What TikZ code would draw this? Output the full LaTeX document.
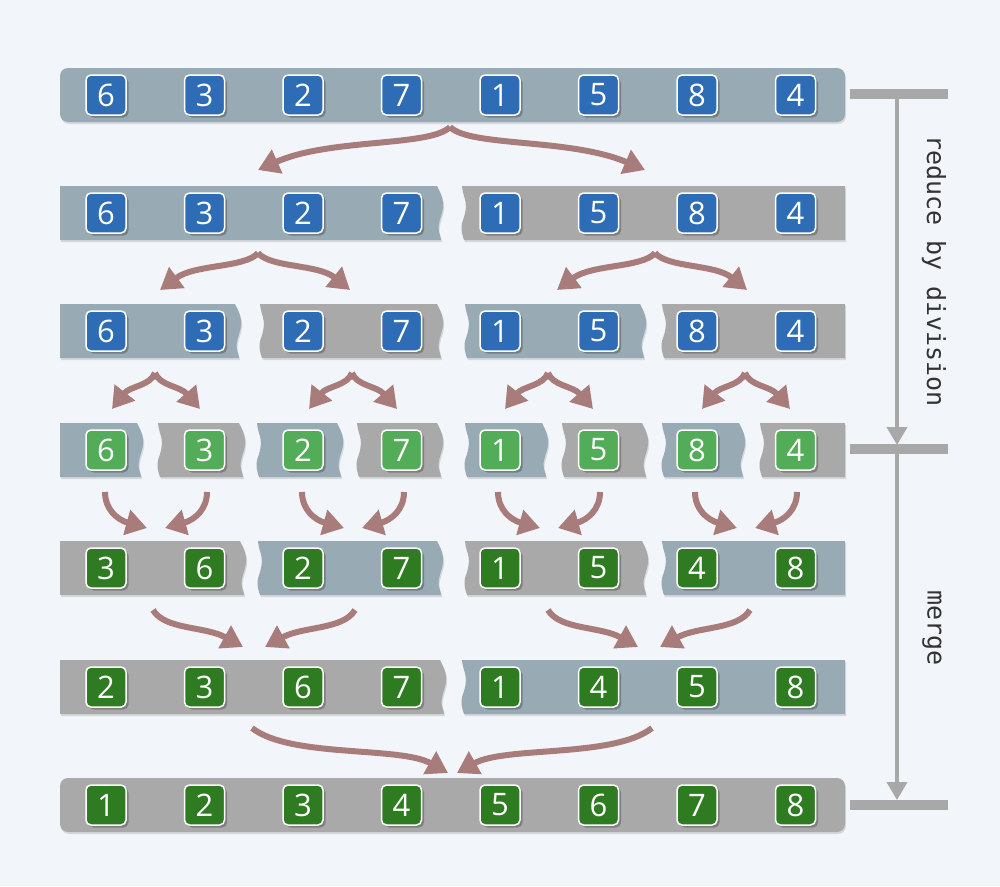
\documentclass[tikz,border=0pt]{standalone}
\usepackage{fontspec}
\setmainfont{Open Sans}
\newfontfamily\monofont{DejaVu Sans Mono}
\usetikzlibrary{arrows.meta,shadows}
\definecolor{bgc}{HTML}{F2F6FA}
\definecolor{bgray}{HTML}{98AAB3}
\definecolor{mgray}{HTML}{A9A9A9}
\definecolor{boxblue}{HTML}{2E6DB6}
\definecolor{lgreen}{HTML}{52AC58}
\definecolor{dgreen}{HTML}{2F7B22}
\definecolor{arrc}{HTML}{A97C7C}
\definecolor{scalec}{HTML}{A8A8A8}
\definecolor{textc}{HTML}{333333}
% edges of bars
\newcommand\Rplain[3]{-- (#1,#2) -- (#1,#3)}
\newcommand\Rtorn[3]{-- (#1-3,#2) .. controls (#1+1,#2+8) and (#1+4,#2+14) .. (#1+3,#2+22) .. controls (#1+2,#2+30) and (#1-3,#2+38) .. (#1-1,#2+46) .. controls (#1,#2+50) and (#1+1,#2+52) .. (#1+1,#3)}
\newcommand\Lplain[3]{-- (#1,#3) -- (#1,#2)}
\newcommand\Ltorn[3]{-- (#1+2,#3) .. controls (#1,#3-6) and (#1-2,#3-12) .. (#1+1,#3-20) .. controls (#1+4,#3-28) and (#1+5,#3-36) .. (#1+2,#3-44) .. controls (#1+1,#3-48) and (#1,#3-51) .. (#1,#2)}
\begin{document}
\begin{tikzpicture}[x=1pt,y=-1pt,
  numbox/.style={rounded corners=5pt, draw=white, line width=1.5pt, minimum size=40pt, inner sep=0pt,
    font=\fontsize{31}{31}\selectfont, text=white,
    drop shadow={shadow xshift=2.5pt, shadow yshift=-2.5pt, opacity=0.4, fill=black!75}},
  bluebox/.style={numbox, fill=boxblue},
  lgbox/.style={numbox, fill=lgreen},
  dgbox/.style={numbox, fill=dgreen},
  barshade/.style={drop shadow={shadow xshift=1pt, shadow yshift=-2pt, opacity=0.12, fill=black}},
  arr/.style={draw=arrc, line width=6pt, -{Triangle[length=21pt,width=25pt]}},
  scalebar/.style={draw=scalec, line width=10pt},
  scalearr/.style={draw=scalec, line width=4pt, -{Triangle[length=18pt,width=20pt]}},
  lab/.style={rotate=-90, font=\monofont\fontsize{25}{25}\selectfont, text=textc}
]
\useasboundingbox (0,0) rectangle (1000,886);
\fill[bgc] (0,0) rectangle (1000,886);

% ---------- bars ----------
% row 1
\fill[bgray, rounded corners=8pt, barshade] (60,68) rectangle (845,122);
% row 2
\fill[bgray, barshade] (60,186) \Rtorn{440}{186}{240} \Lplain{60}{186}{240} -- cycle;
\fill[mgray, barshade] (462,186) \Rplain{845}{186}{240} \Ltorn{462}{186}{240} -- cycle;
% row 3
\fill[bgray, barshade] (60,304) \Rtorn{238}{304}{358} \Lplain{60}{304}{358} -- cycle;
\fill[mgray, barshade] (260,304) \Rtorn{440}{304}{358} \Ltorn{260}{304}{358} -- cycle;
\fill[bgray, barshade] (465,304) \Rtorn{643}{304}{358} \Ltorn{465}{304}{358} -- cycle;
\fill[mgray, barshade] (662,304) \Rplain{845}{304}{358} \Ltorn{662}{304}{358} -- cycle;
% row 4
\fill[bgray, barshade] (60,423) \Rtorn{140}{423}{477} \Lplain{60}{423}{477} -- cycle;
\fill[mgray, barshade] (158,423) \Rtorn{242}{423}{477} \Ltorn{158}{423}{477} -- cycle;
\fill[bgray, barshade] (257,423) \Rtorn{340}{423}{477} \Ltorn{257}{423}{477} -- cycle;
\fill[mgray, barshade] (357,423) \Rtorn{440}{423}{477} \Ltorn{357}{423}{477} -- cycle;
\fill[bgray, barshade] (465,423) \Rtorn{545}{423}{477} \Ltorn{465}{423}{477} -- cycle;
\fill[mgray, barshade] (562,423) \Rtorn{645}{423}{477} \Ltorn{562}{423}{477} -- cycle;
\fill[bgray, barshade] (662,423) \Rtorn{742}{423}{477} \Ltorn{662}{423}{477} -- cycle;
\fill[mgray, barshade] (760,423) \Rplain{845}{423}{477} \Ltorn{760}{423}{477} -- cycle;
% row 5
\fill[mgray, barshade] (60,541) \Rtorn{243}{541}{595} \Lplain{60}{541}{595} -- cycle;
\fill[bgray, barshade] (258,541) \Rtorn{440}{541}{595} \Ltorn{258}{541}{595} -- cycle;
\fill[mgray, barshade] (465,541) \Rtorn{645}{541}{595} \Ltorn{465}{541}{595} -- cycle;
\fill[bgray, barshade] (662,541) \Rplain{845}{541}{595} \Ltorn{662}{541}{595} -- cycle;
% row 6
\fill[mgray, barshade] (60,660) \Rtorn{443}{660}{714} \Lplain{60}{660}{714} -- cycle;
\fill[bgray, barshade] (462,660) \Rplain{845}{660}{714} \Ltorn{462}{660}{714} -- cycle;
% row 7
\fill[mgray, rounded corners=8pt, barshade] (60,778) rectangle (845,832);

% ---------- number boxes ----------
\foreach \n [count=\i] in {6,3,2,7,1,5,8,4}
  \node[bluebox] (r1-\i) at ({106+(\i-1)*98.5},95) {\n};
\foreach \n [count=\i] in {6,3,2,7,1,5,8,4}
  \node[bluebox] (r2-\i) at ({106+(\i-1)*98.5},213) {\n};
\foreach \n [count=\i] in {6,3,2,7,1,5,8,4}
  \node[bluebox] (r3-\i) at ({106+(\i-1)*98.5},331) {\n};
\foreach \n [count=\i] in {6,3,2,7,1,5,8,4}
  \node[lgbox] (r4-\i) at ({106+(\i-1)*98.5},450) {\n};
\foreach \n [count=\i] in {3,6,2,7,1,5,4,8}
  \node[dgbox] (r5-\i) at ({106+(\i-1)*98.5},568) {\n};
\foreach \n [count=\i] in {2,3,6,7,1,4,5,8}
  \node[dgbox] (r6-\i) at ({106+(\i-1)*98.5},687) {\n};
\foreach \n [count=\i] in {1,2,3,4,5,6,7,8}
  \node[dgbox] (r7-\i) at ({106+(\i-1)*98.5},805) {\n};

% ---------- arrows: division ----------
\coordinate (d1) at (450,127);
\draw[arr] (d1) .. controls (430,147) and (330,138) .. (258,170);
\draw[arr] (d1) .. controls (470,147) and (570,138) .. (645,170);
\foreach \c in {258,655} {
  \coordinate (d2-\c) at (\c,253);
  \draw[arr] (d2-\c) .. controls (\c-13,268) and (\c-63,264) .. (\c-98,290);
  \draw[arr] (d2-\c) .. controls (\c+13,268) and (\c+60,264) .. (\c+92,290);
}
\foreach \c in {155,352,548,745} {
  \coordinate (d3-\c) at (\c,373);
  \draw[arr] (d3-\c) .. controls (\c-5,386) and (\c-25,386) .. (\c-43,409);
  \draw[arr] (d3-\c) .. controls (\c+5,386) and (\c+25,386) .. (\c+45,409);
}
% ---------- arrows: merge ----------
\foreach \o in {0,197,393,590} {
  \coordinate (m4a-\o) at (105+\o,492);
  \coordinate (m4b-\o) at (207+\o,492);
  \draw[arr] (m4a-\o) .. controls (105+\o,510) and (118+\o,520) .. (147+\o,528);
  \draw[arr] (m4b-\o) .. controls (207+\o,510) and (194+\o,520) .. (165+\o,528);
}
\foreach \o in {0,395} {
  \coordinate (m5a-\o) at (153+\o,610);
  \coordinate (m5b-\o) at (355+\o,610);
  \draw[arr] (m5a-\o) .. controls (165+\o,630) and (205+\o,626) .. (243+\o,647);
  \draw[arr] (m5b-\o) .. controls (343+\o,630) and (303+\o,626) .. (265+\o,647);
}
\coordinate (m6a) at (252,728);
\coordinate (m6b) at (652,728);
\draw[arr] (m6a) .. controls (290,758) and (400,746) .. (448,773);
\draw[arr] (m6b) .. controls (614,758) and (505,746) .. (457,773);

% ---------- scale on the right ----------
\coordinate (s1) at (897,94);
\coordinate (s2) at (897,445);
\coordinate (s2b) at (897,450);
\coordinate (s3) at (897,800);
\draw[scalearr] (s1) -- (s2);
\draw[scalearr] (s2b) -- (s3);
\draw[scalebar] (850,94) coordinate (b1l) -- (948,94) coordinate (b1r);
\draw[scalebar] (850,449) coordinate (b2l) -- (948,449) coordinate (b2r);
\draw[scalebar] (850,805) coordinate (b3l) -- (948,805) coordinate (b3r);
\node[lab] (reduce) at (934,271) {reduce by division};
\node[lab] (merge) at (932,628) {merge};
\end{tikzpicture}
\end{document}
